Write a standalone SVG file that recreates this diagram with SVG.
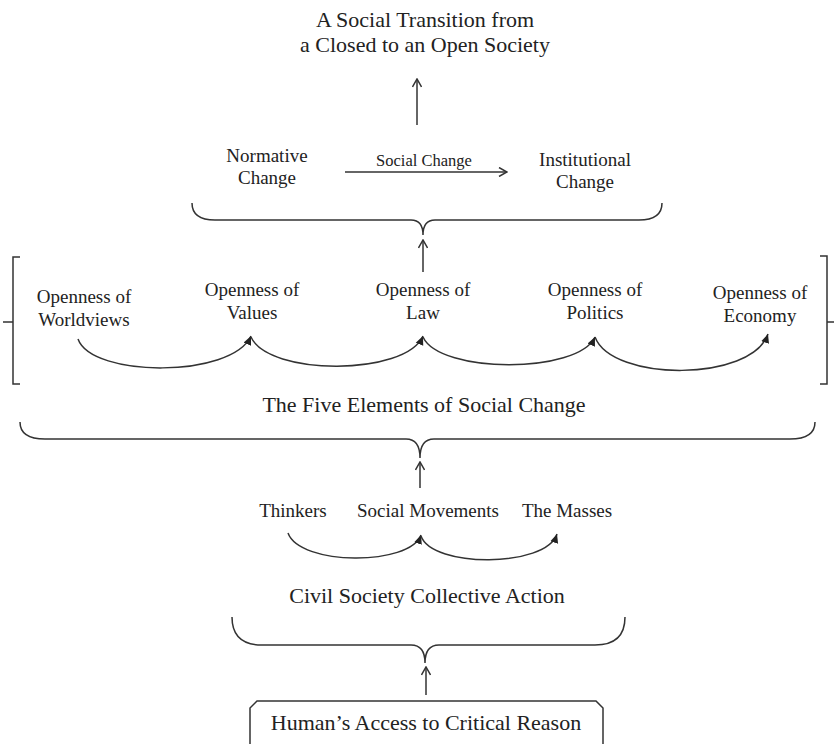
<svg xmlns="http://www.w3.org/2000/svg" width="834" height="744" viewBox="0 0 834 744">
<style>
text{font-family:"Liberation Serif","Times New Roman",serif;fill:#222;text-anchor:middle}
.t22{font-size:22px}
.t19{font-size:19px}
.t16{font-size:16.5px}
.ln{fill:none;stroke:#333;stroke-width:1.5}
</style>
<defs>
<marker id="open" viewBox="0 0 10 10" refX="9" refY="5" markerWidth="10" markerHeight="10" markerUnits="userSpaceOnUse" orient="auto">
<path d="M1,0.5 L9,5 L1,9.5" fill="none" stroke="#333" stroke-width="1.5"/>
</marker>
<marker id="tri" viewBox="0 0 10 10" refX="10" refY="5" markerWidth="9" markerHeight="9" markerUnits="userSpaceOnUse" orient="auto">
<path d="M0,0.5 L10,5 L0,9.5 z" fill="#222"/>
</marker>
</defs>
<rect width="834" height="744" fill="#fff"/>

<g id="title">
<text class="t22" x="425" y="27">A Social Transition from</text>
<text class="t22" x="425" y="52">a Closed to an Open Society</text>
</g>
<g id="normative">
<text class="t19" x="267" y="162">Normative</text>
<text class="t19" x="267" y="184">Change</text>
</g>
<g id="social-change-label">
<text class="t16" x="424" y="166">Social Change</text>
</g>
<g id="institutional">
<text class="t19" x="585" y="166">Institutional</text>
<text class="t19" x="585" y="188">Change</text>
</g>
<g id="worldviews">
<text class="t19" x="84" y="303">Openness of</text>
<text class="t19" x="84" y="326">Worldviews</text>
</g>
<g id="values">
<text class="t19" x="252" y="296">Openness of</text>
<text class="t19" x="252" y="319">Values</text>
</g>
<g id="law">
<text class="t19" x="423" y="296">Openness of</text>
<text class="t19" x="423" y="319">Law</text>
</g>
<g id="politics">
<text class="t19" x="595" y="296">Openness of</text>
<text class="t19" x="595" y="319">Politics</text>
</g>
<g id="economy">
<text class="t19" x="760" y="299">Openness of</text>
<text class="t19" x="760" y="322">Economy</text>
</g>
<g id="five-elements">
<text class="t22" x="424" y="412">The Five Elements of Social Change</text>
</g>
<g id="thinkers"><text class="t19" x="293" y="517">Thinkers</text></g>
<g id="social-movements"><text class="t19" x="428" y="517">Social Movements</text></g>
<g id="masses"><text class="t19" x="567" y="517">The Masses</text></g>
<g id="civil-society">
<text class="t22" x="427" y="603">Civil Society Collective Action</text>
</g>
<g id="critical-reason">
<path d="M250,746 L250,708 L257,701 L596,701 L603,708 L603,746" fill="#fff" stroke="#333" stroke-width="1.5"/>
<text class="t22" x="426" y="730">Human’s Access to Critical Reason</text>
</g>

<g id="connectors">
<!-- arrow to title -->
<line class="ln" x1="417" y1="125" x2="417" y2="79" marker-end="url(#open)"/>
<!-- social change arrow -->
<line class="ln" x1="345" y1="172" x2="507" y2="172" marker-end="url(#open)"/>
<!-- brace 1 -->
<path class="ln" d="M192,203 Q192,220 215,220 L411,220 Q423,220 423,235 Q423,220 435,220 L639,220 Q662,220 662,203"/>
<line class="ln" x1="423" y1="272" x2="423" y2="240" marker-end="url(#open)"/>
<!-- brackets -->
<path class="ln" d="M20,257 L13,257 L13,384 L20,384 M13,322 L3,322"/>
<path class="ln" d="M820,256 L827,256 L827,384 L820,384 M827,322 L834,322"/>
<!-- openness curves -->
<path class="ln" d="M78,339 C92,378 232,378 251,336" marker-end="url(#tri)"/>
<path class="ln" d="M251,337 C268,376 406,376 423,336" marker-end="url(#tri)"/>
<path class="ln" d="M423,337 C440,374 578,374 595,337" marker-end="url(#tri)"/>
<path class="ln" d="M595,337 C612,382 752,382 768,334" marker-end="url(#tri)"/>
<!-- five elements brace -->
<path class="ln" d="M20,422 Q20,439 45,439 L406,439 Q420,439 420,458 Q420,439 434,439 L790,439 Q815,439 815,422"/>
<line class="ln" x1="420" y1="488" x2="420" y2="462" marker-end="url(#open)"/>
<!-- actors curves -->
<path class="ln" d="M288,533 C300,566 410,566 421,535" marker-end="url(#tri)"/>
<path class="ln" d="M421,536 C432,568 546,568 557,534" marker-end="url(#tri)"/>
<!-- bottom brace -->
<path class="ln" d="M232,617 Q232,645 262,645 L411,645 Q425,645 425,663 Q425,645 439,645 L595,645 Q625,645 625,617"/>
<line class="ln" x1="426" y1="695" x2="426" y2="667" marker-end="url(#open)"/>
</g>
</svg>
